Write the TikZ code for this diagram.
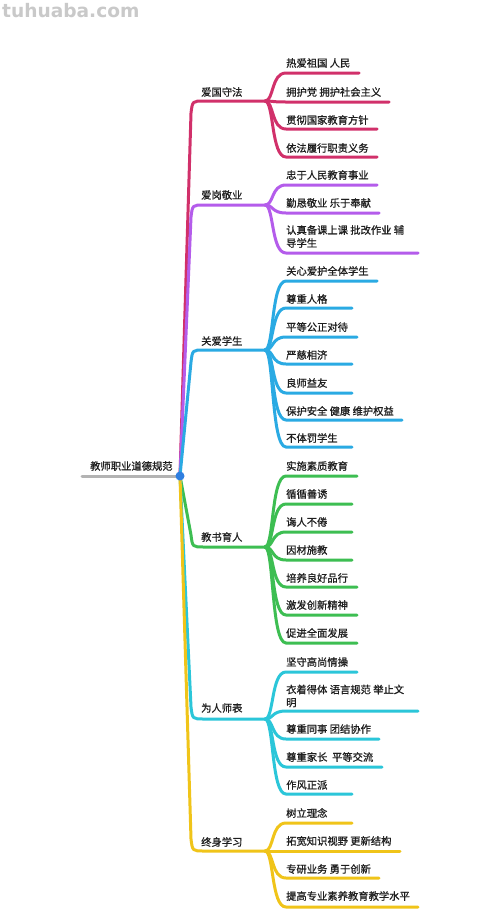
\documentclass[tikz,border=0pt]{standalone}
\usepackage{fontspec}
\setmainfont{Noto Sans CJK SC}[FakeBold=0.9]
\newfontfamily\wmfont{DejaVu Sans}
\definecolor{cRed}{HTML}{D1306A}
\definecolor{cPur}{HTML}{B45CEB}
\definecolor{cBlu}{HTML}{2AAAE3}
\definecolor{cGrn}{HTML}{3DBE52}
\definecolor{cCya}{HTML}{2BC6D9}
\definecolor{cYel}{HTML}{F0C419}
\definecolor{cGry}{HTML}{B3B3B3}
\definecolor{cDot}{HTML}{2F7FE0}
\definecolor{cTxt}{HTML}{1E1E1E}
\definecolor{cWm}{HTML}{C9C9C9}
\tikzset{
  br/.style={line width=3pt, line cap=round, draw=#1},
  lbl/.style={inner sep=0pt, anchor=west, text=cTxt, font=\fontsize{10.3}{13}\selectfont, align=left},
}
% category: #1 name, #2 colour, #3 line y, #4 text y, #5 label, #6 corner offset
\newcommand\mycat[6]{%
  \coordinate (#1) at (265,#3);
  \node[lbl] (#1t) at (201,#4) {#5};
  \draw[br=#2] (root) -- (191,{#3+#6}) .. controls (192.5,#3) .. (204,#3) -- (#1);
}
% child: #1 parent, #2 name, #3 colour, #4 line y, #5 end x, #6 text y, #7 text
\newcommand\mychild[7]{%
  \node[lbl] (#2) at (286,#6) {#7};
  \coordinate (#2e) at (#5,#4);
  \draw[br=#3] (#1) .. controls +(9,0) and +(-15,0) .. (286,#4) -- (#2e);
}
\begin{document}
\begin{tikzpicture}[x=1pt,y=-1pt]
\useasboundingbox (0,0) rectangle (500,913);
\fill[white] (0,0) rectangle (500,913);
\node[inner sep=0pt, anchor=west, text=cWm, font=\wmfont\bfseries\fontsize{18.6}{20}\selectfont] (wm) at (2,11) {tuhuaba.com};

\coordinate (root) at (180,476);
\coordinate (rootl) at (82,476);
\node[lbl] (roott) at (90,466) {教师职业道德规范};
\draw[br=cGry] (rootl) -- (root);

\mycat{ka}{cRed}{101}{92}{爱国守法}{12}
\mycat{kb}{cPur}{205}{195}{爱岗敬业}{12}
\mycat{kc}{cBlu}{350}{341}{关爱学生}{12}
\mycat{kd}{cGrn}{547}{537}{教书育人}{-12}
\mycat{ke}{cCya}{719}{708}{为人师表}{-12}
\mycat{kf}{cYel}{851}{842}{终身学习}{-12}

\mychild{ka}{a1}{cRed}{73}{359}{63}{热爱祖国 人民}
\mychild{ka}{a2}{cRed}{102}{389}{92}{拥护党 拥护社会主义}
\mychild{ka}{a3}{cRed}{129}{377}{120}{贯彻国家教育方针}
\mychild{ka}{a4}{cRed}{157}{377}{148}{依法履行职责义务}

\mychild{kb}{b1}{cPur}{185}{377}{175}{忠于人民教育事业}
\mychild{kb}{b2}{cPur}{213}{379}{203}{勤恳敬业 乐于奉献}
\mychild{kb}{b3}{cPur}{253}{418}{236.5}{认真备课上课 批改作业 辅\\导学生}

\mychild{kc}{c1}{cBlu}{281}{377}{271}{关心爱护全体学生}
\mychild{kc}{c2}{cBlu}{308}{352}{299}{尊重人格}
\mychild{kc}{c3}{cBlu}{337}{357}{327}{平等公正对待}
\mychild{kc}{c4}{cBlu}{364}{352}{355}{严慈相济}
\mychild{kc}{c5}{cBlu}{393}{352}{383}{良师益友}
\mychild{kc}{c6}{cBlu}{420}{402}{411}{保护安全 健康 维护权益}
\mychild{kc}{c7}{cBlu}{447}{352}{438}{不体罚学生}

\mychild{kd}{d1}{cGrn}{476}{357}{466}{实施素质教育}
\mychild{kd}{d2}{cGrn}{504}{352}{494}{循循善诱}
\mychild{kd}{d3}{cGrn}{532}{352}{522}{诲人不倦}
\mychild{kd}{d4}{cGrn}{560}{352}{550}{因材施教}
\mychild{kd}{d5}{cGrn}{587}{357}{578}{培养良好品行}
\mychild{kd}{d6}{cGrn}{615}{357}{605}{激发创新精神}
\mychild{kd}{d7}{cGrn}{643}{357}{633}{促进全面发展}

\mychild{ke}{e1}{cCya}{672}{357}{662}{坚守高尚情操}
\mychild{ke}{e2}{cCya}{711}{418}{696}{衣着得体 语言规范 举止文\\明}
\mychild{ke}{e3}{cCya}{739}{379}{729}{尊重同事 团结协作}
\mychild{ke}{e4}{cCya}{767}{382}{757}{尊重家长\ \ 平等交流}
\mychild{ke}{e5}{cCya}{794}{352}{785}{作风正派}

\mychild{kf}{f1}{cYel}{823}{352}{813}{树立理念}
\mychild{kf}{f2}{cYel}{851}{400}{841}{拓宽知识视野 更新结构}
\mychild{kf}{f3}{cYel}{878}{379}{869}{专研业务 勇于创新}
\mychild{kf}{f4}{cYel}{907}{418}{896}{提高专业素养教育教学水平}

\fill[cDot] (root) circle (4.5);
\end{tikzpicture}
\end{document}
